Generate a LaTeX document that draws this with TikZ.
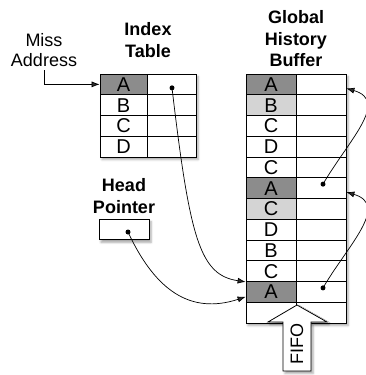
\documentclass[tikz,border=0pt]{standalone}
\usepackage{fontspec}
\setmainfont{Liberation Sans}
\usetikzlibrary{arrows.meta,shadows.blur}
\definecolor{hitgray}{gray}{0.55}
\definecolor{neargray}{gray}{0.83}
\tikzset{
  cell/.style={draw,line width=0.8pt,minimum height=20.75pt,inner sep=0pt,
    font=\fontsize{20}{20}\selectfont},
  heading/.style={align=center,font=\bfseries\fontsize{18}{21.5}\selectfont},
  dot/.style={circle,fill=black,inner sep=0pt,minimum size=5pt},
  link/.style={->,line width=0.7pt},
  soft/.style={blur shadow={shadow xshift=2pt,shadow yshift=-2.5pt,shadow opacity=35}}
}
\begin{document}
\begin{tikzpicture}[x=1pt,y=-1pt,>={Latex[length=8pt,width=6pt]}]
 \useasboundingbox (0,0) rectangle (366,375);
 % labels
 \node[align=center,font=\fontsize{18}{20}\selectfont] (miss) at (44,50) {Miss\\Address};
 \node[heading] (idxlabel) at (148,40) {Index\\Table};
 \node[heading] (ghblabel) at (296,39) {Global\\History\\Buffer};
 \node[heading] (headlabel) at (124,196) {Head\\Pointer};
 % index table
 \path[soft,fill=white] (100,74) rectangle (196,157);
 \foreach \l/\c [count=\i from 0] in {A/hitgray,B/white,C/white,D/white}{
   \pgfmathsetmacro\yc{74+(\i+0.5)*20.75}
   \node[cell,fill=\c,minimum width=47pt] (ix\l) at (123.5,\yc) {\l};
   \node[cell,minimum width=49pt] (ip\l) at (171.5,\yc) {};
 }
 % global history buffer
 \path[soft,fill=white] (246,74) rectangle (346,323);
 \foreach \l/\c [count=\i from 0] in {A/hitgray,B/neargray,C/white,D/white,C/white,A/hitgray,C/neargray,D/white,B/white,C/white,A/hitgray,/white}{
   \pgfmathsetmacro\yc{74+(\i+0.5)*20.75}
   \node[cell,fill=\c,minimum width=50pt] (gl\i) at (271,\yc) {\l};
   \node[cell,minimum width=50pt] (gp\i) at (321,\yc) {};
 }
 % fifo arrow
 \draw[soft,fill=white,line width=0.8pt] (283,371) -- (283,322) -- (268,322) -- (297,305)
   -- (327,322) -- (311,322) -- (311,371) -- cycle;
 \node[rotate=90,font=\fontsize{18}{18}\selectfont] (fifo) at (297,344) {FIFO};
 % head pointer
 \node[cell,soft,fill=white,minimum width=50pt] (head) at (124,229.5) {};
 % pointers
 \node[dot] (dA) at ([shift={(0.5,3.5)}]ipA.center) {};
 \node[dot] (dhead) at ([shift={(4,2.5)}]head.center) {};
 \node[dot] (d5) at ([shift={(2,-4)}]gp5.center) {};
 \node[dot] (d10) at ([shift={(2,-4)}]gp10.center) {};
 \draw[link] (miss.south) |- (ixA.west);
 \draw[link] (dA.center) .. controls (190,240) and (200,275) .. ([shift={(0,-10)}]gl10.west);
 \draw[link] (dhead.center) .. controls (155,290) and (190,315) .. ([shift={(0,5)}]gl10.west);
 \draw[link] (d10.center) .. controls (348,245) and (390,205) .. ([shift={(0,4)}]gp5.east);
 \draw[link] (d5.center) .. controls (348,141) and (390,101) .. ([shift={(0,4)}]gp0.east);
\end{tikzpicture}
\end{document}
